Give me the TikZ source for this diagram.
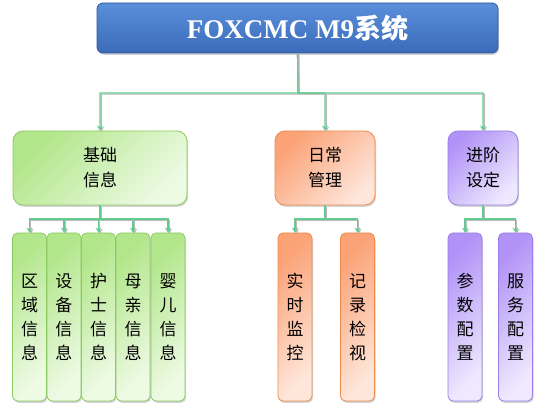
\documentclass[tikz,border=0pt]{standalone}
\usepackage{fontspec}
\setmainfont{Liberation Serif}
\newfontfamily\cjk{Noto Sans CJK SC}
\usetikzlibrary{shadows,arrows.meta}
\definecolor{tblueA}{HTML}{5A8FDC}
\definecolor{tblueB}{HTML}{3A6BB8}
\definecolor{tblueD}{HTML}{2E5A9C}
\definecolor{gA}{HTML}{B2E68A}
\definecolor{gB}{HTML}{EDFAE4}
\definecolor{gD}{HTML}{8CCB62}
\definecolor{oA}{HTML}{FBA277}
\definecolor{oB}{HTML}{FEE6DA}
\definecolor{oD}{HTML}{EE8A48}
\definecolor{pA}{HTML}{B193F7}
\definecolor{pB}{HTML}{EEE9FE}
\definecolor{pD}{HTML}{9C7CEB}
\definecolor{lnk}{HTML}{62CC90}
\begin{document}
\begin{tikzpicture}[x=1pt,y=1pt,
  shad/.style={drop shadow={shadow xshift=1pt,shadow yshift=-1.8pt,opacity=0.35}},
  titlebox/.style={shad,rounded corners=6pt,draw=tblueD,line width=0.8pt,
    top color=tblueA,bottom color=tblueB,minimum width=401pt,minimum height=50pt,
    text=white,font=\fontsize{27}{30}\selectfont\bfseries},
  bigbox/.style={shad,rounded corners=10pt,line width=0.8pt,minimum height=74pt,
    align=center,font=\cjk\fontsize{17}{25}\selectfont},
  smallbox/.style={shad,rounded corners=5pt,line width=0.8pt,minimum height=168pt,
    minimum width=34pt,align=center,font=\cjk\fontsize{17}{24}\selectfont},
  grn/.style={draw=gD,top color=gA,bottom color=gB,shading angle=45},
  org/.style={draw=oD,top color=oA,bottom color=oB,shading angle=45},
  prp/.style={draw=pD,top color=pA,bottom color=pB,shading angle=45},
  conn/.style={draw=lnk,line width=1.1pt,-{Stealth[length=5pt,width=6pt]},
    preaction={draw=gray!55,line width=1.1pt,transform canvas={xshift=1.2pt,yshift=-1.2pt}}},
]
\useasboundingbox (0,0) rectangle (558,407);
\node[titlebox] (title) at (297.5,379) {FOXCMC M9{\cjk 系统}};

\node[bigbox,grn,minimum width=174pt] (jc) at (100,239) {基础\\信息};
\node[bigbox,org,minimum width=100pt] (rc) at (325,239) {日常\\管理};
\node[bigbox,prp,minimum width=70pt] (jj) at (483,239) {进阶\\设定};

\node[smallbox,grn] (s1) at (29.5,90) {区\\域\\信\\息};
\node[smallbox,grn] (s2) at (64,90) {设\\备\\信\\息};
\node[smallbox,grn] (s3) at (98.5,90) {护\\士\\信\\息};
\node[smallbox,grn] (s4) at (133,90) {母\\亲\\信\\息};
\node[smallbox,grn] (s5) at (168,90) {婴\\儿\\信\\息};
\node[smallbox,org] (r1) at (295,90) {实\\时\\监\\控};
\node[smallbox,org] (r2) at (357.5,90) {记\\录\\检\\视};
\node[smallbox,prp] (p1) at (465,90) {参\\数\\配\\置};
\node[smallbox,prp] (p2) at (515.5,90) {服\\务\\配\\置};

\coordinate (b0) at (298,314);
\coordinate (b1) at (100,188);
\coordinate (b2) at (325,188);
\coordinate (b3) at (483,188);

\foreach \t in {jc,rc,jj}{\draw[conn] (title.south) -- (b0) -| (\t.north);}
\foreach \t in {s1,s2,s3,s4,s5}{\draw[conn] (jc.south) -- (b1) -| (\t.north);}
\foreach \t in {r1,r2}{\draw[conn] (rc.south) -- (b2) -| (\t.north);}
\foreach \t in {p1,p2}{\draw[conn] (jj.south) -- (b3) -| (\t.north);}
\end{tikzpicture}
\end{document}
